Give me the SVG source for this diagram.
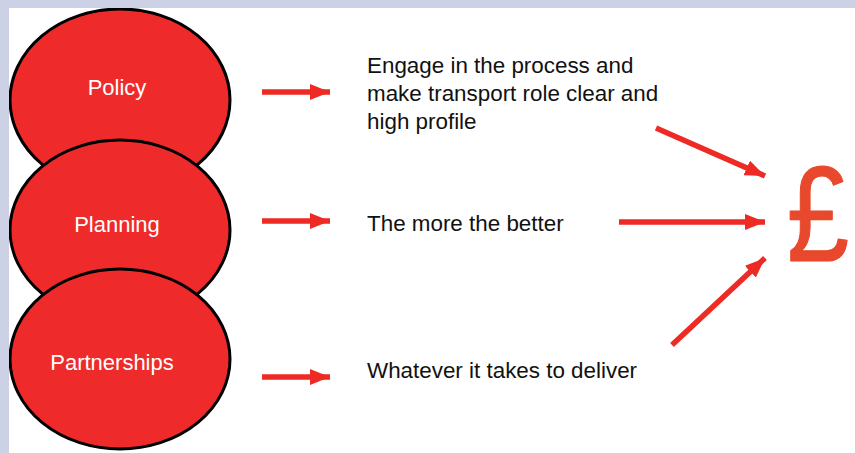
<svg xmlns="http://www.w3.org/2000/svg" width="856" height="453" viewBox="0 0 856 453">
  <style>
    .node ellipse { fill: #ee2b2a; stroke: #000; stroke-width: 3; }
    .node text { fill: #fff; font-family: "Liberation Sans", Arial, sans-serif; font-size: 22px; text-anchor: middle; }
    .label { fill: #111; font-family: "Liberation Sans", Arial, sans-serif; font-size: 22.4px; }
    .conn { stroke: #ee2a24; stroke-width: 5.5; fill: none; marker-end: url(#head); }
  </style>
  <defs>
    <marker id="head" markerUnits="userSpaceOnUse" markerWidth="22" markerHeight="16" refX="20" refY="8" orient="auto">
      <path d="M0,0 L20,8 L0,16 Z" fill="#ee2a24"/>
    </marker>
    <clipPath id="panel">
      <rect x="9" y="8" width="846" height="445"/>
    </clipPath>
  </defs>

  <!-- page frame -->
  <rect x="0" y="0" width="856" height="453" fill="#cdd1e6"/>
  <rect x="9" y="8" width="846" height="445" fill="#fff"/>

  <g clip-path="url(#panel)">
    <!-- stacked circles -->
    <g id="policy" class="node">
      <ellipse cx="120" cy="100" rx="110" ry="91"/>
      <text x="117" y="95">Policy</text>
    </g>
    <g id="planning" class="node">
      <ellipse cx="120" cy="230" rx="110" ry="90"/>
      <text x="117" y="232">Planning</text>
    </g>
    <g id="partnerships" class="node">
      <ellipse cx="120" cy="359" rx="110" ry="90"/>
      <text x="112" y="370">Partnerships</text>
    </g>
  </g>

  <!-- statements -->
  <g id="engage">
    <text class="label" x="367" y="73">Engage in the process and</text>
    <text class="label" x="367" y="101">make transport role clear  and</text>
    <text class="label" x="367" y="129">high profile</text>
  </g>
  <g id="more">
    <text class="label" x="367" y="231">The more the better</text>
  </g>
  <g id="whatever">
    <text class="label" x="367" y="378">Whatever it takes to deliver</text>
  </g>

  <!-- outcome -->
  <g id="money">
    <text transform="translate(787,261) scale(0.82,1)" fill="#e8482b" stroke="#e8482b" stroke-width="1.2" stroke-linejoin="round" font-family="'Liberation Sans', Arial, sans-serif" font-size="136">£</text>
  </g>

  <!-- connectors -->
  <g id="connectors">
    <line class="conn" x1="262" y1="92" x2="330" y2="92"/>
    <line class="conn" x1="262" y1="221" x2="330" y2="221"/>
    <line class="conn" x1="262" y1="377" x2="330" y2="377"/>
    <line class="conn" x1="656" y1="128" x2="765" y2="176"/>
    <line class="conn" x1="619" y1="222" x2="765" y2="222"/>
    <line class="conn" x1="672" y1="345" x2="765" y2="258"/>
  </g>
</svg>
